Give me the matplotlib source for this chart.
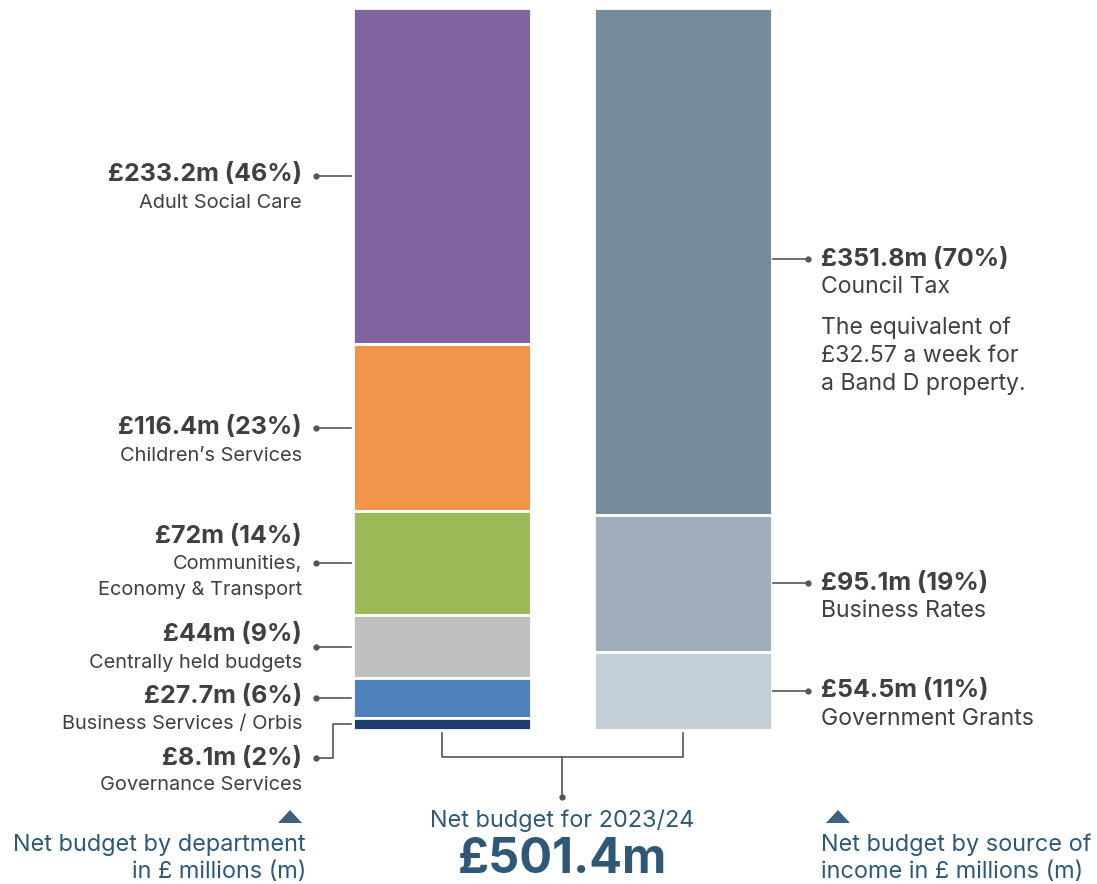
import matplotlib
matplotlib.use("Agg")
import matplotlib.pyplot as plt
import numpy as np

plt.rcParams['font.family'] = ['Inter', 'DejaVu Sans']

# Net budget by department (top of the stack first)
dept_names = ["Adult Social Care", "Children’s Services", "Communities,\nEconomy & Transport",
              "Centrally held budgets", "Business Services / Orbis", "Governance Services"]
dept_values = [233.2, 116.4, 72, 44, 27.7, 8.1]
dept_labels = ["£233.2m (46%)", "£116.4m (23%)", "£72m (14%)", "£44m (9%)", "£27.7m (6%)", "£8.1m (2%)"]
dept_colors = ["#8064A2", "#F0954A", "#9BBB59", "#BFBFBF", "#4F81BD", "#1F3F6E"]

# Net budget by source of income
income_names = ["Council Tax", "Business Rates", "Government Grants"]
income_values = [351.8, 95.1, 54.5]
income_labels = ["£351.8m (70%)", "£95.1m (19%)", "£54.5m (11%)"]
income_colors = ["#778C9B", "#9FAEBA", "#C5CFD7"]

total = 501.4
total_label = "£501.4m"

TXT = "#404040"
BLUE = "#2F5877"
LINE = "#555555"

fig = plt.figure(figsize=(10.97, 8.84), dpi=100)
ax = fig.add_axes([0, 0, 1, 1])
ax.axis("off")

# pixel-like layout on x, £m on y
k = 722 / total          # px per £m
ax.set_xlim(0, 1097)
ax.set_ylim(-(884 - 730) / k, total + 8 / k)


def py(p):
    return (730 - p) / k


def stack(vals):
    vals = np.array(vals)
    bottoms = total - np.cumsum(vals)
    return bottoms, bottoms + vals / 2


left_x, right_x, bar_w = 441.5, 682.5, 178

d_bot, d_mid = stack(dept_values)
ax.bar([left_x] * len(dept_values), dept_values, bottom=d_bot, width=bar_w,
       color=dept_colors, edgecolor="white", linewidth=2)
i_bot, i_mid = stack(income_values)
ax.bar([right_x] * len(income_values), income_values, bottom=i_bot, width=bar_w,
       color=income_colors, edgecolor="white", linewidth=2)

BOLD = 18
NAME = 14.4
RNAME = 16.6
CAP = 16.9

# left labels
bold_off = [-1, 0, -27, -12, -2]
for i in range(5):
    y = d_mid[i]
    ax.plot([316, 351], [y, y], color=LINE, lw=1.2)
    ax.plot(316, y, "o", color=LINE, ms=3.5)
    yb = y - bold_off[i] / k
    ax.text(302, yb, dept_labels[i], ha="right", va="center", fontsize=BOLD,
            fontweight="bold", color=TXT)
    for j, line in enumerate(dept_names[i].split("\n")):
        ax.text(302, yb - (28 + 26 * j) / k, line, ha="right", va="center",
                fontsize=NAME, color=TXT)

# governance label with elbow leader
y = d_mid[5]
ax.plot([351, 333, 333, 316], [y, y, py(758), py(758)], color=LINE, lw=1.2)
ax.plot(316, py(758), "o", color=LINE, ms=3.5)
ax.text(302, py(758), dept_labels[5], ha="right", va="center", fontsize=BOLD,
        fontweight="bold", color=TXT)
ax.text(302, py(785), dept_names[5], ha="right", va="center", fontsize=NAME, color=TXT)

# right labels
for i in range(3):
    y = i_mid[i] + (2 / k if i == 0 else 0)
    ax.plot([773, 808], [y, y], color=LINE, lw=1.2)
    ax.plot(808, y, "o", color=LINE, ms=3.5)
    ax.text(821, y, income_labels[i], ha="left", va="center", fontsize=BOLD,
            fontweight="bold", color=TXT)
    ax.text(821, y - 28 / k, income_names[i], ha="left", va="center",
            fontsize=RNAME, color=TXT)

note = ["The equivalent of", "£32.57 a week for", "a Band D property."]
for j, line in enumerate(note):
    ax.text(821, py(328 + 28 * j), line, ha="left", va="center", fontsize=RNAME, color=TXT)

# bracket joining the two bars
ax.plot([left_x, left_x, right_x, right_x], [py(733), py(757), py(757), py(733)],
        color=LINE, lw=1.2)
ax.plot([562, 562], [py(757), py(797)], color=LINE, lw=1.2)
ax.plot(562, py(797), "o", color=LINE, ms=3.5)

ax.text(562, py(821), "Net budget for 2023/24", ha="center", va="center",
        fontsize=CAP, color=BLUE)
ax.text(562, py(860), total_label, ha="center", va="center", fontsize=35,
        fontweight="bold", color=BLUE)

# captions with flat pointer triangles
for cx in (290, 838):
    ax.fill([cx - 12, cx + 12, cx], [py(823), py(823), py(810)], color="#3D6180", lw=0)
ax.text(306, py(845), "Net budget by department", ha="right", va="center",
        fontsize=CAP, color=BLUE)
ax.text(306, py(872), "in £ millions (m)", ha="right", va="center",
        fontsize=CAP, color=BLUE)
ax.text(821, py(845), "Net budget by source of", ha="left", va="center",
        fontsize=CAP, color=BLUE)
ax.text(821, py(872), "income in £ millions (m)", ha="left", va="center",
        fontsize=CAP, color=BLUE)

fig.savefig("out.png", dpi=100)
